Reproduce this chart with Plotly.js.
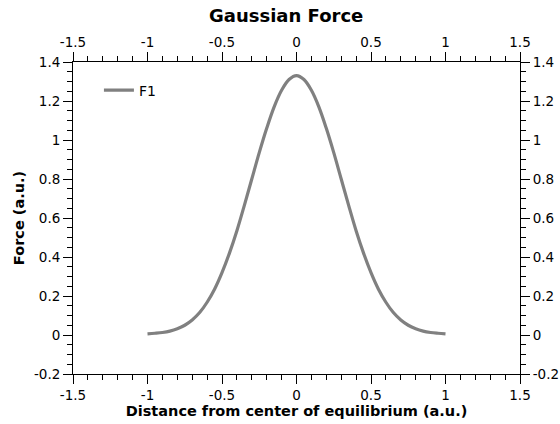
<!DOCTYPE html>
<html>
<head>
<meta charset="utf-8">
<script src="https://cdn.plot.ly/plotly-3.0.1.min.js"></script>
<style>html,body{margin:0;padding:0;background:#fff;}#chart{width:560px;height:424px;}</style>
</head>
<body>
<div id="chart"></div>
<script>
// Distance (a.u.) and force values
const distance = [-1.0,-0.95,-0.9,-0.85,-0.8,-0.75,-0.7,-0.65,-0.6,-0.55,-0.5,-0.45,-0.4,-0.35,-0.3,-0.25,-0.2,-0.15,-0.1,-0.05,0,
                  0.05,0.1,0.15,0.2,0.25,0.3,0.35,0.4,0.45,0.5,0.55,0.6,0.65,0.7,0.75,0.8,0.85,0.9,0.95,1.0];
const forceF1 = [0.006,0.009,0.013,0.02,0.032,0.05,0.077,0.115,0.168,0.235,0.32,0.42,0.535,0.665,0.80,0.935,1.06,1.17,1.255,1.31,1.33,
                 1.31,1.255,1.17,1.06,0.935,0.80,0.665,0.535,0.42,0.32,0.235,0.168,0.115,0.077,0.05,0.032,0.02,0.013,0.009,0.006];
const seriesName = "F1";

const xTickVals = [-1.5,-1,-0.5,0,0.5,1,1.5];
const xTickText = ["-1.5","-1","-0.5","0","0.5","1","1.5"];
const yTickVals = [-0.2,0,0.2,0.4,0.6,0.8,1,1.2,1.4];
const yTickText = ["-0.2","0","0.2","0.4","0.6","0.8","1","1.2","1.4"];

const FONT = "DejaVu Sans, Verdana, sans-serif";

const traces = [
  {x: distance, y: forceF1, type: "scatter", mode: "lines", name: seriesName,
   line: {color: "#808080", width: 3.2, shape: "spline", smoothing: 1}, xaxis: "x", yaxis: "y"},
  {x: distance, y: forceF1, type: "scatter", mode: "lines", name: seriesName,
   line: {color: "rgba(0,0,0,0)", width: 0}, xaxis: "x2", yaxis: "y2",
   showlegend: false, hoverinfo: "skip"}
];

const baseAxis = {
  showline: true, linecolor: "#000", linewidth: 1,
  ticks: "outside", ticklen: 9, tickwidth: 1, tickcolor: "#000",
  showgrid: false, zeroline: false,
  tickfont: {family: FONT, size: 13.5, color: "#000"}
};

const layout = {
  width: 560, height: 424,
  margin: {l: 73, r: 40, t: 62, b: 50},
  paper_bgcolor: "#fff", plot_bgcolor: "#fff",
  font: {family: FONT, color: "#000"},
  title: {text: "Gaussian Force", font: {family: FONT, size: 18, weight: "bold", color: "#000"},
          x: 0.511, xanchor: "center", y: 0.962, yanchor: "middle"},
  showlegend: true,
  legend: {x: 0.058, y: 0.96, xanchor: "left", yanchor: "top", bgcolor: "rgba(0,0,0,0)",
           font: {family: FONT, size: 14, color: "#000"}},
  xaxis: Object.assign({}, baseAxis, {
    range: [-1.5, 1.5], tickmode: "array", tickvals: xTickVals, ticktext: xTickText,
    minor: {dtick: 0.1, ticks: "outside", ticklen: 5, tickcolor: "#000", showgrid: false},
    title: {text: "Distance from center of equilibrium (a.u.)", standoff: 0,
            font: {family: FONT, size: 14.5, weight: "bold", color: "#000"}}
  }),
  yaxis: Object.assign({}, baseAxis, {
    range: [-0.2, 1.4], tickmode: "array", tickvals: yTickVals, ticktext: yTickText,
    minor: {dtick: 0.05, ticks: "outside", ticklen: 5, tickcolor: "#000", showgrid: false},
    title: {text: "Force (a.u.)", standoff: 5,
            font: {family: FONT, size: 14.5, weight: "bold", color: "#000"}}
  }),
  xaxis2: Object.assign({}, baseAxis, {
    overlaying: "x", side: "top", anchor: "y2",
    range: [-1.5, 1.5], tickmode: "array", tickvals: xTickVals, ticktext: xTickText,
    minor: {dtick: 0.1, ticks: "outside", ticklen: 5, tickcolor: "#000", showgrid: false}
  }),
  yaxis2: Object.assign({}, baseAxis, {
    overlaying: "y", side: "right", anchor: "x2",
    range: [-0.2, 1.4], tickmode: "array", tickvals: yTickVals, ticktext: yTickText,
    minor: {dtick: 0.05, ticks: "outside", ticklen: 5, tickcolor: "#000", showgrid: false}
  })
};

Plotly.newPlot("chart", traces, layout, {displayModeBar: false, staticPlot: true});
</script>
</body>
</html>
